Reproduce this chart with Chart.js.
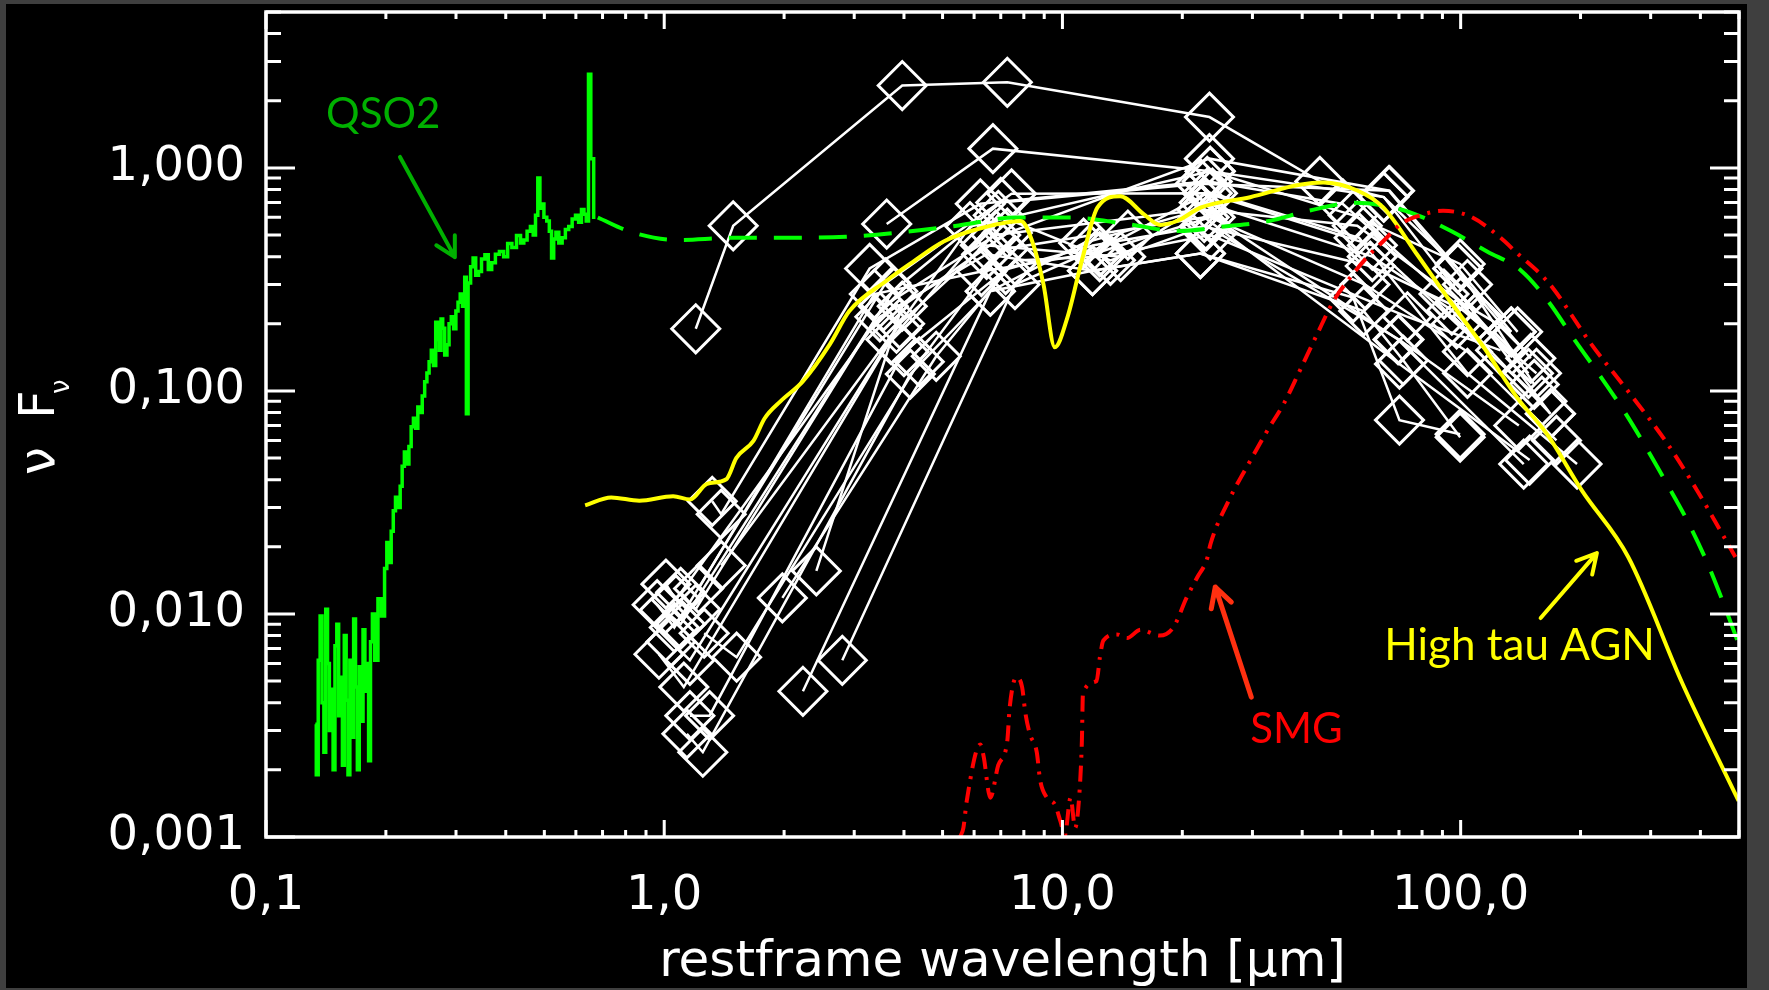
<!DOCTYPE html>
<html>
<head>
<meta charset="utf-8">
<script src="https://cdn.jsdelivr.net/npm/chart.js@4.4.1/dist/chart.umd.min.js"></script>
<style>
  html, body { margin: 0; padding: 0; background: #3f3f3f; overflow: hidden; }
  canvas { display: block; }
</style>
</head>
<body>
<canvas id="c" width="1769" height="990"></canvas>
<script>
// ---------------- axis definitions ----------------
const xRange = [0.1, 500];
const yRange = [0.001, 5];
const xTickValues = [0.1, 1, 10, 100];
const xTickLabels = ['0,1', '1,0', '10,0', '100,0'];
const yTickValues = [0.001, 0.01, 0.1, 1];
const yTickLabels = ['0,001', '0,010', '0,100', '1,000'];
const xTitle = 'restframe wavelength [μm]';

// ---------------- QSO2 template (green) ----------------
const qso2OptWave = [0.1330, 0.1345, 0.1360, 0.1375, 0.1390, 0.1405, 0.1420, 0.1435, 0.1450, 0.1466,
  0.1482, 0.1498, 0.1514, 0.1530, 0.1547, 0.1564, 0.1581, 0.1598, 0.1615, 0.1633, 0.1651, 0.1669,
  0.1687, 0.1705, 0.1724, 0.1743, 0.1762, 0.1781, 0.1800, 0.1820, 0.1840, 0.1860,
  0.1891, 0.193, 0.197, 0.2000, 0.2022, 0.2050, 0.2075, 0.2100, 0.2129, 0.2160, 0.2185, 0.2210, 0.2242,
  0.2270, 0.23, 0.2330, 0.2361, 0.2390, 0.2422, 0.2450, 0.2486, 0.2520, 0.2551, 0.2585, 0.2617, 0.2650,
  0.2686, 0.2710, 0.2738, 0.2765, 0.2791, 0.2830, 0.2864, 0.2900, 0.2939, 0.2980, 0.3016, 0.3055,
  0.3094, 0.3135, 0.3175, 0.3196, 0.3239, 0.3290, 0.3334, 0.3390, 0.3444, 0.3510, 0.3582, 0.3650, 0.3726,
  0.3810, 0.3903, 0.4000, 0.4089, 0.4200, 0.4314, 0.4400, 0.4481, 0.4570, 0.4657, 0.4720, 0.4782, 0.4847,
  0.4900, 0.4946, 0.5030, 0.5112, 0.5180, 0.5246, 0.5310, 0.5382, 0.5490, 0.5594, 0.5700,
  0.5815, 0.5930, 0.6044, 0.6150, 0.6245, 0.6330, 0.641, 0.6498, 0.6584, 0.6718];
const qso2OptFlux = [0.0032, 0.0019, 0.0062, 0.0098, 0.0040, 0.0024, 0.0105, 0.0060, 0.0030, 0.0046,
  0.0020, 0.0072, 0.0090, 0.0035, 0.0052, 0.0021, 0.0080, 0.0041, 0.0019, 0.0062, 0.0028, 0.0095,
  0.0047, 0.0020, 0.0058, 0.0033, 0.0085, 0.0045, 0.0060, 0.0022, 0.0075, 0.0100,
  0.0062, 0.0117, 0.0098, 0.0160, 0.0209, 0.0170, 0.0235, 0.0290, 0.0334, 0.0300, 0.0374, 0.0460, 0.0532,
  0.0470, 0.0564, 0.0690, 0.0755, 0.0680, 0.0847, 0.0800, 0.095, 0.1100, 0.1203, 0.1350, 0.152, 0.1300,
  0.203, 0.1700, 0.152, 0.2100, 0.191, 0.1450, 0.161, 0.2000, 0.215, 0.1900, 0.228, 0.2500,
  0.272, 0.2400, 0.323, 0.079, 0.305, 0.3600, 0.394, 0.3300, 0.343, 0.3900, 0.408, 0.3500, 0.376,
  0.4100, 0.422, 0.4000, 0.458, 0.4400, 0.497, 0.4600, 0.475, 0.5200, 0.546, 0.5000, 0.613, 0.90,
  0.6600, 0.689, 0.6000, 0.578, 0.5200, 0.394, 0.4800, 0.515, 0.4600, 0.486, 0.5300,
  0.546, 0.5900, 0.613, 0.5700, 0.65, 0.6200, 0.578, 2.63, 1.10, 0.60];
const qso2IrWave = [0.681, 0.828, 1.074, 1.489, 2.062, 2.859, 3.965, 5.49, 7.61, 10.55, 14.6, 19.6,
  25.5, 33.0, 41.5, 53.9, 65.6, 76.7, 94.6, 116.5, 141.7, 165.7, 193.8, 222.4, 256.6, 292.4,
  333.3, 372.4, 415.9, 456, 499];
const qso2IrFlux = [0.599, 0.515, 0.475, 0.486, 0.486, 0.491, 0.515, 0.552, 0.599, 0.599, 0.559, 0.521,
  0.546, 0.578, 0.642, 0.697, 0.673, 0.621, 0.521, 0.422, 0.347, 0.253, 0.168, 0.119, 0.0817, 0.0557,
  0.0370, 0.0258, 0.0170, 0.0113, 0.00734];

// ---------------- High tau AGN (yellow) ----------------
const agnWave = [0.633, 0.736, 0.866, 1.053, 1.162, 1.281, 1.432, 1.518, 1.675, 1.788, 1.958, 2.232,
  2.61, 2.917, 3.615, 4.148, 5.045, 6.299, 7.864, 8.395, 8.96, 9.57, 10.28, 11.19, 12.25, 13.96,
  16.0, 17.6, 19.4, 22.3, 29.6, 39.4, 45.2, 55.0, 63.9, 77.8, 94.0, 114.3, 138.9, 164.8, 201.5,
  263.5, 360.5, 499];
const agnFlux = [0.0307, 0.0333, 0.0322, 0.0337, 0.0326, 0.0383, 0.0402, 0.0501, 0.0597, 0.0754, 0.0898, 0.1107,
  0.1626, 0.228, 0.312, 0.372, 0.469, 0.539, 0.578, 0.469, 0.301, 0.157, 0.212, 0.385, 0.665, 0.747,
  0.62, 0.555, 0.578, 0.665, 0.739, 0.84, 0.86, 0.792, 0.665, 0.408, 0.253, 0.157, 0.0929, 0.064, 0.0358,
  0.018, 0.00488, 0.00145];

// ---------------- SMG (red) ----------------
const smgWave = [5.53, 5.64, 5.75, 6.22, 6.34, 6.59, 6.90, 7.27, 7.37, 7.66, 7.92, 8.07, 8.28, 8.62, 8.79,
  9.14, 9.57, 9.88, 10.14, 10.48, 10.76, 11.04, 11.19, 11.26, 12.18, 12.42, 12.67, 13.70, 14.53, 15.71,
  17.55, 18.98, 20.53, 21.76, 23.08, 23.54, 26.30, 29.58, 32.63, 35.97, 39.43, 43.50, 47.94, 52.87,
  57.93, 63.90, 70.48, 77.74, 90.33, 105.7, 126.0, 138.9, 158.4, 170.2, 212.3, 263.4, 331.1, 392.4, 489.7];
const smgFlux = [0.00100, 0.00110, 0.00145, 0.00260, 0.00230, 0.00150, 0.00210, 0.00270, 0.00380, 0.00520,
  0.00470, 0.00360, 0.00290, 0.00240, 0.00180, 0.00150, 0.00140, 0.00118, 0.00102, 0.00150, 0.00110,
  0.00160, 0.00270, 0.00440, 0.00500, 0.00640, 0.00760, 0.00810, 0.00780, 0.00850, 0.00800, 0.00870,
  0.0119, 0.0145, 0.0177, 0.0206, 0.0329, 0.0484, 0.066, 0.0877, 0.123, 0.178, 0.253, 0.323,
  0.394, 0.469, 0.558, 0.606, 0.642, 0.606, 0.486, 0.413, 0.335, 0.29, 0.163, 0.0996, 0.0577, 0.0358, 0.018];

// ---------------- individual sources (white diamonds): [wavelength, nuFnu] ----------------
const src01 = [[1.20,0.19],[1.49,0.55],[3.96,2.34],[7.27,2.42],[23.4,1.69],[44.3,0.87],[64.1,0.74],[98.4,0.354],[134,0.184]];
const src02 = [[3.62,0.56],[6.69,1.22],[23.5,0.965],[53.7,0.613],[99.7,0.371],[139,0.184]];
const src03 = [[1.32,0.032],[1.39,0.028],[3.28,0.354],[6.22,0.69],[23.1,0.87],[50.6,0.689],[90.8,0.272],[155,0.12]];
const src04 = [[1.01,0.0136],[1.07,0.0116],[3.48,0.215],[6.45,0.41],[11.9,0.346],[22.2,0.413],[53.7,0.262],[70.2,0.074],[99.7,0.064]];
const src05 = [[0.96,0.011],[1.06,0.0087],[3.60,0.305],[7.45,0.765],[23.8,0.77],[55.6,0.486],[104,0.12],[196,0.047]];
const src06 = [[0.97,0.0066],[1.12,0.0047],[3.71,0.17],[6.90,0.613],[13.2,0.385],[22.7,0.546],[59.3,0.363],[110,0.215],[168,0.079]];
const src07 = [[1.14,0.0029],[1.25,0.0024],[4.15,0.119],[6.59,0.28],[11.3,0.46],[22.4,0.65],[69.6,0.17],[144,0.047]];
const src08 = [[1.26,0.0082],[1.52,0.0064],[4.37,0.135],[7.10,0.432],[22.7,0.60],[70.2,0.132],[149,0.049]];
const src09 = [[1.98,0.0118],[4.82,0.143],[7.60,0.385],[12.4,0.40],[23.5,0.50],[73.5,0.215],[126,0.152]];
const src10 = [[2.41,0.0156],[3.96,0.24],[7.27,0.51],[23.4,1.10],[66.3,0.79],[98.4,0.354],[153,0.107]];
const src11 = [[2.23,0.0045],[6.59,0.28],[11.9,0.346],[22.2,0.413],[57.1,0.228],[71.8,0.137],[99.7,0.062]];
const src12 = [[2.80,0.0062],[7.60,0.30],[14.6,0.50],[23.1,0.77],[60.0,0.45],[97.7,0.20],[160,0.09]];
const src13 = [[1.22,0.013],[3.37,0.272],[6.26,0.343],[12.4,0.42],[23.5,0.60],[57.5,0.30],[104,0.15],[174,0.06]];
const src14 = [[1.39,0.0165],[3.83,0.191],[5.86,0.546],[23.5,0.965],[64.1,0.74],[110,0.215],[148,0.12]];
const src15 = [[1.00,0.0104],[1.10,0.0090],[3.55,0.24],[6.80,0.50],[22.4,0.65],[55.0,0.55],[100,0.25],[134,0.184]];
const src16 = [[1.04,0.0075],[1.16,0.0062],[3.90,0.20],[6.40,0.45],[14.0,0.40],[22.7,0.70],[60.0,0.40],[95.0,0.23],[168,0.079]];
const src17 = [[1.10,0.0125],[1.20,0.0105],[3.75,0.28],[7.00,0.70],[22.2,0.85],[66.0,0.79],[104,0.30],[150,0.14]];
const src18 = [[1.16,0.0035],[1.30,0.0035],[4.00,0.15],[7.20,0.35],[12.0,0.45],[23.0,0.55],[70.0,0.17],[140,0.07]];
const sources = [src01, src02, src03, src04, src05, src06, src07, src08, src09, src10, src11, src12, src13, src14, src15, src16, src17, src18];

// ---------------- annotations (text + arrow, in data coordinates) ----------------
const noteTexts = ['QSO2', 'SMG', 'High tau AGN'];
const noteAnchors = [[0.197, 1.51], [38.7, 0.00264], [140.6, 0.00621]];
const noteArrows = [[[0.217, 1.12], [0.298, 0.398]], [[29.8, 0.00424], [24.2, 0.0132]], [[158.8, 0.00959], [219.8, 0.01875]]];
const noteColors = ['#00b000', '#ff0000', '#ffff00'];
const noteArrowColors = ['#00b000', '#ff3010', '#ffff00'];

// ---------------- build datasets ----------------
const zip = (xs, ys) => xs.map((x, i) => ({x, y: ys[i]}));
const datasets = [];
datasets.push({ data: zip(smgWave, smgFlux), borderColor: '#ff0000', borderWidth: 4,
  borderDash: [16, 8, 3, 8], pointRadius: 0, showLine: true, cubicInterpolationMode: 'monotone', order: 1 });
datasets.push({ data: zip(agnWave, agnFlux), borderColor: '#ffff00', borderWidth: 4,
  pointRadius: 0, showLine: true, cubicInterpolationMode: 'monotone', order: 2 });
datasets.push({ data: zip(qso2IrWave, qso2IrFlux), borderColor: '#00ff00', borderWidth: 4,
  borderDash: [28, 17], pointRadius: 0, showLine: true, cubicInterpolationMode: 'monotone', order: 3 });
datasets.push({ data: zip(qso2OptWave, qso2OptFlux), borderColor: '#00ff00', borderWidth: 3.5,
  pointRadius: 0, showLine: true, stepped: 'middle', order: 4 });
sources.forEach((s, i) => datasets.push({
  data: s.map(p => ({x: p[0], y: p[1]})), borderColor: '#ffffff', borderWidth: 2.5,
  pointStyle: 'rectRot', pointRadius: 24, pointBorderWidth: 3, pointBorderColor: '#ffffff',
  pointBackgroundColor: 'rgba(0,0,0,0)', showLine: true, tension: 0, order: 10 + i }));

// ---------------- plugins ----------------
const background = {
  id: 'background',
  beforeDraw(chart) {
    const ctx = chart.ctx;
    ctx.save();
    ctx.fillStyle = '#3f3f3f';
    ctx.fillRect(0, 0, chart.width, chart.height);
    ctx.fillStyle = '#000000';
    ctx.fillRect(6, 4, 1741, 984);
    ctx.restore();
  }
};

const frame = {
  id: 'frame',
  afterDatasetsDraw(chart) {
    const {ctx, chartArea: a, scales: {x, y}} = chart;
    ctx.save();
    ctx.strokeStyle = '#ffffff';
    ctx.lineWidth = 3;
    ctx.beginPath();
    for (let d = -1; d <= 2; d++) {
      for (let m = 1; m <= 9; m++) {
        const v = m * Math.pow(10, d);
        if (v < xRange[0] || v > xRange[1]) continue;
        const px = x.getPixelForValue(v);
        const len = m === 1 ? 17 : 7;
        ctx.moveTo(px, a.bottom); ctx.lineTo(px, a.bottom - len);
        ctx.moveTo(px, a.top); ctx.lineTo(px, a.top + len);
      }
    }
    for (let d = -3; d <= 0; d++) {
      for (let m = 1; m <= 9; m++) {
        const v = m * Math.pow(10, d);
        if (v < yRange[0] || v > yRange[1]) continue;
        const py = y.getPixelForValue(v);
        const len = m === 1 ? 29 : 15;
        ctx.moveTo(a.left, py); ctx.lineTo(a.left + len, py);
        ctx.moveTo(a.right, py); ctx.lineTo(a.right - len, py);
      }
    }
    ctx.stroke();
    ctx.lineWidth = 3.5;
    ctx.strokeRect(a.left, a.top, a.right - a.left, a.bottom - a.top);

    // y axis title: nu F_nu (rotated)
    ctx.fillStyle = '#ffffff';
    ctx.translate(54, 428);
    ctx.rotate(-Math.PI / 2);
    ctx.textBaseline = 'alphabetic';
    ctx.textAlign = 'left';
    ctx.font = '50px "DejaVu Sans"';
    ctx.fillText('ν', -47, 0);
    ctx.fillText('F', 9, 0);
    ctx.font = '26px "DejaVu Sans"';
    ctx.fillText('ν', 34, 15);
    ctx.restore();
  }
};

function drawArrow(ctx, x1, y1, x2, y2, color, width) {
  const head = 22;
  const ang = Math.atan2(y2 - y1, x2 - x1);
  ctx.strokeStyle = color;
  ctx.lineWidth = width;
  ctx.lineCap = 'round';
  ctx.beginPath();
  ctx.moveTo(x1, y1); ctx.lineTo(x2, y2);
  for (const s of [-1, 1]) {
    ctx.moveTo(x2, y2);
    ctx.lineTo(x2 - head * Math.cos(ang + s * 0.5), y2 - head * Math.sin(ang + s * 0.5));
  }
  ctx.stroke();
}

const notes = {
  id: 'notes',
  afterDraw(chart) {
    const {ctx, scales: {x, y}} = chart;
    ctx.save();
    noteTexts.forEach((t, i) => {
      const [ax, ay] = noteAnchors[i];
      ctx.fillStyle = noteColors[i];
      ctx.font = (i === 2 ? '44px' : '42px') + ' Lato';
      ctx.textAlign = 'center';
      ctx.textBaseline = 'alphabetic';
      ctx.fillText(t, x.getPixelForValue(ax), y.getPixelForValue(ay));
      const [[p1x, p1y], [p2x, p2y]] = noteArrows[i];
      drawArrow(ctx, x.getPixelForValue(p1x), y.getPixelForValue(p1y),
        x.getPixelForValue(p2x), y.getPixelForValue(p2y), noteArrowColors[i], i === 1 ? 5 : 4);
    });
    ctx.restore();
  }
};

// ---------------- chart ----------------
const tickFont = { family: 'DejaVu Sans', size: 48 };
new Chart(document.getElementById('c'), {
  type: 'scatter',
  data: { datasets },
  options: {
    responsive: false,
    animation: false,
    events: [],
    layout: { autoPadding: false, padding: { left: 0, right: 30, top: 12, bottom: 0 } },
    plugins: { legend: { display: false }, tooltip: { enabled: false } },
    scales: {
      x: {
        type: 'logarithmic', position: 'bottom', min: xRange[0], max: xRange[1],
        afterBuildTicks: s => { s.ticks = xTickValues.map(v => ({ value: v })); },
        afterFit: s => { s.height = 153; s.paddingLeft = 0; s.paddingRight = 0; },
        grid: { display: false, drawTicks: false },
        border: { display: false },
        ticks: { color: '#ffffff', font: tickFont, padding: 31, autoSkip: false, maxRotation: 0,
          callback: (v, i) => xTickLabels[i] },
        title: { display: true, text: xTitle, color: '#ffffff',
          font: { family: 'DejaVu Sans', size: 50, lineHeight: 1 }, padding: { top: 0, bottom: 2 } }
      },
      y: {
        type: 'logarithmic', position: 'left', min: yRange[0], max: yRange[1],
        afterBuildTicks: s => { s.ticks = yTickValues.map(v => ({ value: v })); },
        afterFit: s => { s.width = 266; s.paddingTop = 0; s.paddingBottom = 0; },
        grid: { display: false, drawTicks: false },
        border: { display: false },
        ticks: { color: '#ffffff', font: tickFont, padding: 21, autoSkip: false,
          callback: (v, i) => yTickLabels[i] }
      }
    }
  },
  plugins: [background, frame, notes]
});
</script>
</body>
</html>
